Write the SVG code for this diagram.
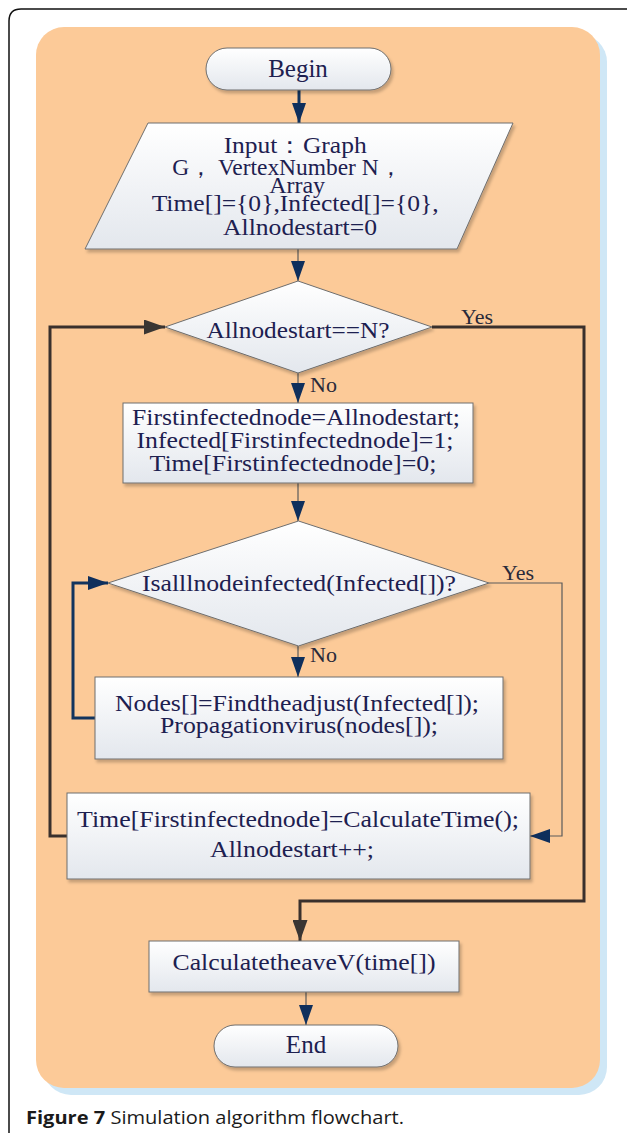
<svg xmlns="http://www.w3.org/2000/svg" width="627" height="1133" viewBox="0 0 627 1133">
  <style>
    .node { fill: url(#nodeFill); stroke: #6e6e6e; stroke-width: 1; filter: url(#shadow); }
    .t { font-family: "Liberation Serif", "Times New Roman", serif; fill: #1d2050; text-anchor: middle; }
    .lbl { font-family: "Liberation Serif", "Times New Roman", serif; fill: #2a2a3a; font-size: 22px; }
    .thin { fill: none; stroke: #5a5a5a; stroke-width: 1.2; }
    .thickDark { fill: none; stroke: #3a302c; stroke-width: 3; }
    .thickNavy { fill: none; stroke: #12345e; stroke-width: 3; }
    .cap { font-family: "Open Sans", "Noto Sans", "Liberation Sans", sans-serif; font-size: 18px; fill: #1a1a1a; }
  </style>
  <defs>
    <linearGradient id="nodeFill" x1="0" y1="0" x2="0" y2="1">
      <stop offset="0" stop-color="#ffffff"/>
      <stop offset="1" stop-color="#e3e7ed"/>
    </linearGradient>
    <filter id="shadow" x="-10%" y="-10%" width="125%" height="130%">
      <feDropShadow dx="2" dy="3" stdDeviation="1.5" flood-color="#000" flood-opacity="0.22"/>
    </filter>
    <marker id="navyHeadL" markerWidth="20" markerHeight="14" refX="20" refY="7" orient="auto" markerUnits="userSpaceOnUse" viewBox="0 0 20 14">
      <path d="M0,0 L20,7 L0,14 Z" fill="#0f2f5c"/>
    </marker>
    <marker id="darkHeadL" markerWidth="21" markerHeight="15" refX="21" refY="7.5" orient="auto" markerUnits="userSpaceOnUse" viewBox="0 0 21 15">
      <path d="M0,0 L21,7.5 L0,15 Z" fill="#3a3633"/>
    </marker>
  </defs>

  <!-- page frame -->
  <path d="M9,1133 V21 Q9,9 21,9 H627" fill="none" stroke="#111" stroke-width="1.5"/>

  <!-- background panel with pale blue edge -->
  <rect x="43" y="34" width="564" height="1061" rx="28" fill="#cfe7f6"/>
  <rect x="36" y="27" width="564" height="1061" rx="28" fill="#fcca98"/>

  <!-- connectors -->
  <g id="connectors">
    <line x1="299" y1="90" x2="299" y2="123" class="thickNavy" marker-end="url(#navyHeadL)"/>
    <line x1="298" y1="249" x2="298" y2="281" class="thin" marker-end="url(#navyHeadL)"/>
    <line x1="298" y1="373" x2="298" y2="403" class="thin" marker-end="url(#navyHeadL)"/>
    <line x1="298" y1="483" x2="298" y2="521" class="thin" marker-end="url(#navyHeadL)"/>
    <line x1="298" y1="646" x2="298" y2="677" class="thin" marker-end="url(#navyHeadL)"/>
    <polyline points="489,583 562,583 562,836 530,836" class="thin" marker-end="url(#navyHeadL)"/>
    <polyline points="95,718 73,718 73,583 108,583" class="thickNavy" marker-end="url(#navyHeadL)"/>
    <polyline points="67,836 50,836 50,327 165,327" class="thickDark" marker-end="url(#darkHeadL)"/>
    <polyline points="432,327 584,327 584,901 300,901 300,941" class="thickDark" marker-end="url(#darkHeadL)"/>
    <line x1="306" y1="992" x2="306" y2="1025" class="thin" marker-end="url(#navyHeadL)"/>
    <text x="461" y="324" class="lbl">Yes</text>
    <text x="310" y="392" class="lbl">No</text>
    <text x="502" y="580" class="lbl">Yes</text>
    <text x="310" y="662" class="lbl">No</text>
  </g>

  <g id="begin">
    <rect x="206" y="48" width="185" height="42" rx="21" class="node"/>
    <text x="298" y="77" class="t" font-size="25">Begin</text>
  </g>

  <g id="input">
    <polygon points="148,123 513,123 457,249 85,249" class="node"/>
    <text class="t" font-size="23">
      <tspan x="298" y="153" textLength="143" lengthAdjust="spacingAndGlyphs">Input：Graph</tspan>
      <tspan x="290" y="175" textLength="230" lengthAdjust="spacingAndGlyphs">G， VertexNumber N，</tspan>
      <tspan x="300" y="193" textLength="56" lengthAdjust="spacingAndGlyphs">Array</tspan>
      <tspan x="298" y="211" textLength="287" lengthAdjust="spacingAndGlyphs">Time[]={0},Infected[]={0},</tspan>
      <tspan x="300" y="235" textLength="154" lengthAdjust="spacingAndGlyphs">Allnodestart=0</tspan>
    </text>
  </g>

  <g id="check-all-start">
    <polygon points="298,281 432,327 298,373 165,327" class="node"/>
    <text x="298" y="338" class="t" font-size="24" textLength="183" lengthAdjust="spacingAndGlyphs">Allnodestart==N?</text>
  </g>

  <g id="init-infection">
    <rect x="123" y="403" width="350" height="80" class="node"/>
    <text class="t" font-size="24">
      <tspan x="299" y="425" textLength="328" lengthAdjust="spacingAndGlyphs">Firstinfectednode=Allnodestart;</tspan>
      <tspan x="298" y="448" textLength="317" lengthAdjust="spacingAndGlyphs">Infected[Firstinfectednode]=1;</tspan>
      <tspan x="293" y="471" textLength="287" lengthAdjust="spacingAndGlyphs">Time[Firstinfectednode]=0;</tspan>
    </text>
  </g>

  <g id="check-all-infected">
    <polygon points="298.5,521 489,583 298.5,646 108,583" class="node"/>
    <text x="299" y="591" class="t" font-size="24" textLength="314" lengthAdjust="spacingAndGlyphs">Isalllnodeinfected(Infected[])?</text>
  </g>

  <g id="propagate">
    <rect x="95" y="677" width="408" height="82" class="node"/>
    <text class="t" font-size="24">
      <tspan x="300" y="711" textLength="364" lengthAdjust="spacingAndGlyphs">Nodes[]=Findtheadjust(Infected[]);</tspan>
      <tspan x="299" y="733" textLength="278" lengthAdjust="spacingAndGlyphs">Propagationvirus(nodes[]);</tspan>
    </text>
  </g>

  <g id="record-time">
    <rect x="67" y="793" width="463" height="86" class="node"/>
    <text class="t" font-size="24">
      <tspan x="301" y="827" textLength="442" lengthAdjust="spacingAndGlyphs">Time[Firstinfectednode]=CalculateTime();</tspan>
      <tspan x="292" y="857" textLength="164" lengthAdjust="spacingAndGlyphs">Allnodestart++;</tspan>
    </text>
  </g>

  <g id="average">
    <rect x="149" y="941" width="310" height="51" class="node"/>
    <text x="304" y="970" class="t" font-size="24" textLength="263" lengthAdjust="spacingAndGlyphs">CalculatetheaveV(time[])</text>
  </g>

  <g id="end">
    <rect x="214" y="1025" width="184" height="42" rx="21" class="node"/>
    <text x="306" y="1053" class="t" font-size="25">End</text>
  </g>

  <text x="26" y="1124" class="cap" textLength="378" lengthAdjust="spacingAndGlyphs"><tspan font-weight="bold">Figure 7</tspan> Simulation algorithm flowchart.</text>
</svg>
